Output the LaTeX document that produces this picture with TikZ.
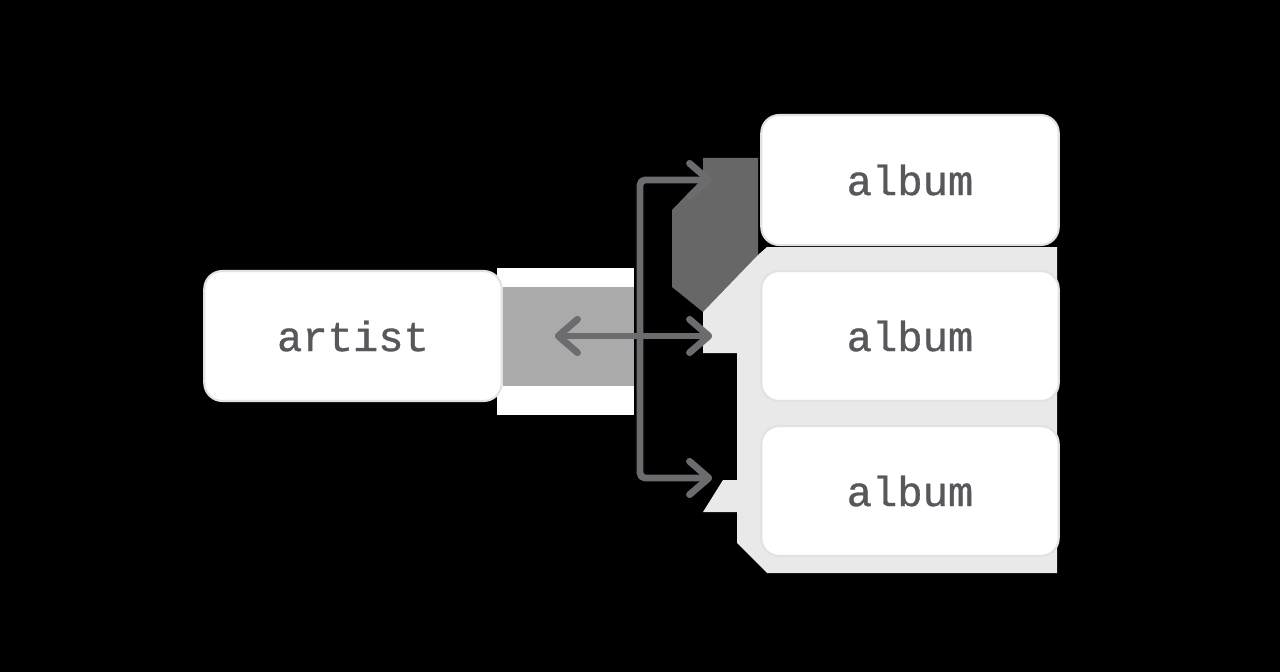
\documentclass[tikz,border=0pt]{standalone}
\usepackage{fontspec}
\usepackage{tikz}
\usetikzlibrary{arrows.meta}

\newfontfamily\labelfont{Liberation Mono}[RawFeature={embolden=0.8}]

\definecolor{linkgray}{HTML}{6B6B70}
\definecolor{textgray}{HTML}{58575C}
\definecolor{edgegray}{HTML}{E2E2E4}
\definecolor{panelgray}{HTML}{AAAAAA}
\definecolor{shadegray}{HTML}{676767}
\definecolor{palegray}{HTML}{E9E9E9}

\tikzset{
  box/.style={draw=edgegray, line width=1.2pt, fill=white, rounded corners=0.36cm,
    minimum width=5.95cm, minimum height=2.6cm, text=textgray,
    font=\labelfont\fontsize{24}{28}\selectfont},
  link/.style={draw=linkgray, line width=3.9pt, line join=round,
    >={Straight Barb[length=11pt,width=19pt,round]}},
}

\begin{document}
\begin{tikzpicture}[x=0.02cm,y=-0.02cm]
\fill[black] (0,0) rectangle (1280,672);
% grey patches round the arrows
\fill[white] (497,268) rectangle (634,415);
\fill[panelgray] (503,287) rectangle (634,386);
\fill[shadegray] (672,210) -- (703,178) -- (703,158) -- (758,158) -- (758,255) -- (703,312) -- (672,287) -- cycle;
\fill[palegray] (758,255) -- (767,247) -- (1057,247) -- (1057,573) -- (767,573) -- (737,543) -- (737,512)
  -- (703,512) -- (723,480) -- (737,480) -- (737,353) -- (703,353) -- (703,312) -- cycle;

\node[box] (artist) at (353,336) {artist};
\node[box] (album1) at (910,180) {album};
\node[box] (album2) at (910,336) {album};
\node[box] (album3) at (910,491) {album};

\coordinate (split) at (640,336);
\draw[link,->] (split) -- ([xshift=1.04cm]artist.east);
\draw[link,->,rounded corners=0.1cm] (split) |- ([xshift=-0.96cm]album1.west);
\draw[link,->] (split) -- ([xshift=-0.96cm]album2.west);
\draw[link,->,rounded corners=0.1cm] (split) |- ([xshift=-0.96cm,yshift=0.26cm]album3.west);

\end{tikzpicture}
\end{document}
